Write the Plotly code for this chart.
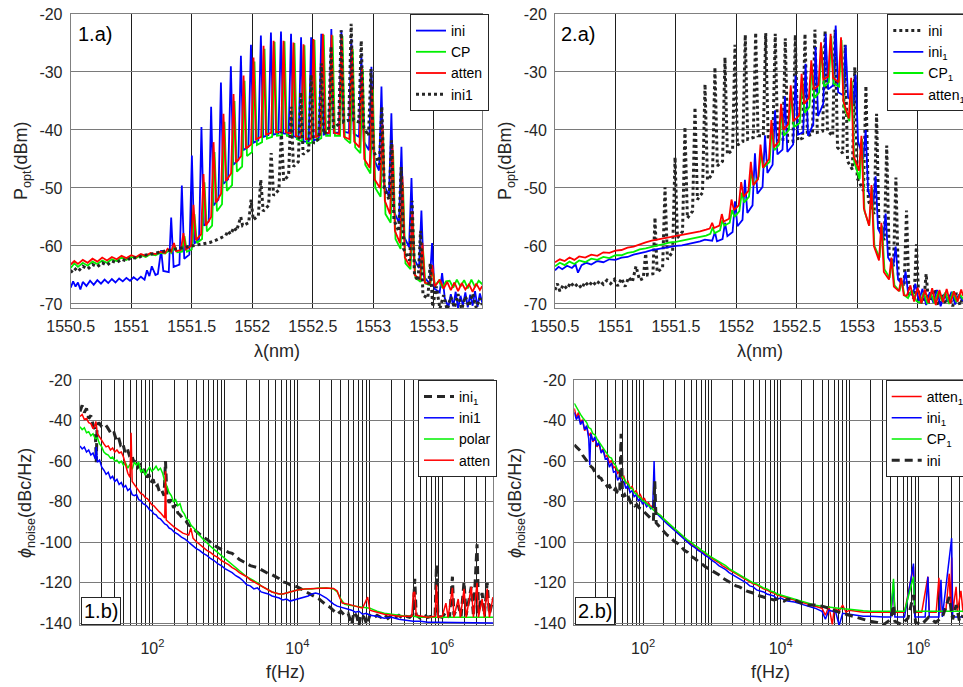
import plotly.graph_objects as go

W, H = 963, 687

# ---------------- data ----------------
# (1.a) optical spectra : (wavelength nm, power dBm); each comb tooth = peak, valley start, valley end
TL_INI = [(1550.50,-67.2),(1550.52,-66.1),(1550.54,-67.0),(1550.56,-66.3),(1550.58,-67.5),(1550.60,-66.2),
          (1550.63,-66.9),(1550.66,-66.0),(1550.69,-66.7),(1550.72,-65.9),(1550.75,-66.5),(1550.78,-65.8),
          (1550.81,-66.4),(1550.84,-65.7),(1550.87,-66.3),(1550.90,-65.6),(1550.93,-66.1),(1550.96,-65.5),
          (1550.99,-66.0),(1551.02,-65.4),(1551.05,-65.9),(1551.08,-65.3),(1551.11,-65.8),(1551.13,-64.2),
          (1551.15,-65.2),(1551.17,-63.5),(1551.20,-65.0),(1551.22,-64.8),
          (1551.247,-60.7),(1551.265,-64.3),(1551.31,-64.5),
          (1551.33,-55.1),(1551.35,-63.6),(1551.398,-63.2),
          (1551.418,-49.6),(1551.438,-62.2),(1551.48,-61.5),
          (1551.501,-44.4),(1551.521,-59.6),(1551.56,-58.8),
          (1551.58,-39.5),(1551.60,-56.5),(1551.64,-55.8),
          (1551.66,-36.0),(1551.68,-53.0),(1551.72,-52.0),
          (1551.741,-31.8),(1551.761,-49.3),(1551.80,-48.5),
          (1551.823,-29.0),(1551.843,-46.0),(1551.885,-45.2),
          (1551.906,-27.2),(1551.926,-43.5),(1551.968,-42.9),
          (1551.989,-25.3),(1552.009,-42.2),(1552.05,-41.8),
          (1552.071,-23.7),(1552.091,-41.2),(1552.133,-40.9),
          (1552.154,-23.2),(1552.174,-40.8),(1552.216,-40.6),
          (1552.237,-23.0),(1552.257,-40.6),(1552.30,-40.7),
          (1552.32,-23.4),(1552.34,-41.0),(1552.383,-41.5),
          (1552.403,-24.0),(1552.423,-42.0),(1552.466,-42.0),
          (1552.486,-24.0),(1552.506,-41.8),(1552.55,-41.5),
          (1552.57,-23.4),(1552.59,-40.8),(1552.633,-40.6),
          (1552.653,-22.6),(1552.673,-40.5),(1552.716,-40.4),
          (1552.736,-22.8),(1552.756,-40.3),(1552.798,-40.5),
          (1552.818,-24.3),(1552.838,-40.6),(1552.881,-41.2),
          (1552.901,-26.8),(1552.921,-42.0),(1552.964,-43.5),
          (1552.984,-29.1),(1553.004,-45.0),(1553.047,-47.0),
          (1553.067,-32.5),(1553.087,-49.3),(1553.129,-51.5),
          (1553.149,-37.1),(1553.169,-54.0),(1553.212,-56.0),
          (1553.232,-42.9),(1553.252,-58.3),(1553.295,-60.2),
          (1553.315,-48.3),(1553.335,-62.2),(1553.377,-63.8),
          (1553.397,-53.9),(1553.417,-65.3),(1553.465,-66.5),
          (1553.485,-59.5),(1553.505,-67.4),(1553.548,-68.0),
          (1553.568,-64.7),(1553.59,-69.0),
          (1553.62,-70.6),(1553.64,-68.3),(1553.66,-70.4),(1553.68,-67.9),(1553.70,-70.8),
          (1553.72,-68.6),(1553.74,-70.2),(1553.76,-68.0),(1553.78,-70.6),(1553.80,-68.4),(1553.82,-70.3),
          (1553.84,-67.8),(1553.86,-70.5),(1553.88,-68.2),(1553.90,-69.8)]

TL_CP = [(1550.50,-63.8),(1550.53,-63.0),(1550.56,-63.6),(1550.60,-62.9),(1550.64,-63.4),(1550.68,-62.7),
         (1550.72,-63.1),(1550.76,-62.5),(1550.80,-62.9),(1550.84,-62.3),(1550.88,-62.6),(1550.92,-62.0),
         (1550.96,-62.4),(1551.00,-61.9),(1551.04,-62.1),(1551.08,-61.6),(1551.12,-61.9),(1551.16,-61.4),
         (1551.20,-61.6),(1551.24,-61.2),(1551.28,-61.3),(1551.31,-60.8),(1551.33,-61.2),(1551.36,-60.0),
         (1551.38,-61.1),(1551.42,-61.0),
         (1551.44,-58.3),(1551.46,-61.0),(1551.50,-60.6),
         (1551.522,-54.5),(1551.542,-59.5),(1551.585,-58.8),
         (1551.605,-49.0),(1551.625,-57.5),(1551.668,-56.5),
         (1551.688,-43.8),(1551.708,-54.0),(1551.75,-52.8),
         (1551.77,-38.6),(1551.79,-50.5),(1551.833,-49.5),
         (1551.853,-35.0),(1551.873,-47.2),(1551.916,-46.3),
         (1551.936,-31.5),(1551.956,-44.5),(1551.998,-43.8),
         (1552.018,-28.2),(1552.038,-42.6),(1552.081,-42.1),
         (1552.101,-26.0),(1552.121,-41.5),(1552.164,-41.2),
         (1552.184,-24.8),(1552.204,-41.0),(1552.246,-40.9),
         (1552.266,-24.7),(1552.286,-41.0),(1552.328,-41.2),
         (1552.348,-25.0),(1552.368,-41.6),(1552.411,-42.0),
         (1552.431,-25.4),(1552.451,-42.3),(1552.494,-42.2),
         (1552.514,-24.5),(1552.534,-41.8),(1552.57,-41.4),
         (1552.59,-23.6),(1552.61,-41.0),(1552.643,-41.0),
         (1552.663,-23.7),(1552.683,-41.0),(1552.725,-41.0),
         (1552.745,-23.8),(1552.765,-41.5),(1552.81,-42.3),
         (1552.83,-26.0),(1552.85,-43.0),(1552.893,-44.0),
         (1552.913,-29.5),(1552.933,-46.0),(1552.976,-47.5),
         (1552.996,-33.0),(1553.016,-50.0),(1553.06,-51.5),
         (1553.08,-40.0),(1553.10,-54.5),(1553.143,-56.0),
         (1553.163,-43.5),(1553.183,-58.8),(1553.225,-60.5),
         (1553.245,-49.5),(1553.265,-63.0),(1553.307,-64.0),
         (1553.327,-55.5),(1553.347,-65.5),(1553.39,-66.2),
         (1553.41,-60.5),(1553.43,-66.5),(1553.47,-66.8),
         (1553.49,-64.0),(1553.51,-66.9),
         (1553.54,-66.0),(1553.57,-67.2),(1553.60,-66.1),(1553.63,-66.0),(1553.66,-67.2),(1553.69,-65.8),
         (1553.72,-67.0),(1553.75,-65.9),(1553.78,-67.3),(1553.81,-65.8),(1553.84,-67.1),(1553.87,-66.0),
         (1553.90,-66.6)]

TL_ATTEN = [(1550.50,-63.2),(1550.53,-62.6),(1550.56,-63.1),(1550.60,-62.4),(1550.64,-62.9),(1550.68,-62.2),
            (1550.72,-62.7),(1550.76,-62.0),(1550.80,-62.5),(1550.84,-61.9),(1550.88,-62.3),(1550.92,-61.7),
            (1550.96,-62.1),(1551.00,-61.6),(1551.04,-61.9),(1551.08,-61.4),(1551.12,-61.7),(1551.16,-61.2),
            (1551.20,-61.4),(1551.24,-61.0),(1551.28,-61.2),(1551.30,-60.5),(1551.33,-61.0),
            (1551.353,-59.5),(1551.37,-60.9),(1551.41,-60.7),
            (1551.431,-57.8),(1551.45,-60.6),(1551.494,-60.0),
            (1551.514,-52.9),(1551.534,-59.0),(1551.577,-58.0),
            (1551.597,-47.6),(1551.617,-56.5),(1551.66,-55.0),
            (1551.68,-42.1),(1551.70,-52.5),(1551.742,-51.0),
            (1551.762,-37.2),(1551.782,-48.8),(1551.825,-47.5),
            (1551.845,-33.8),(1551.865,-45.6),(1551.908,-44.5),
            (1551.928,-30.6),(1551.948,-43.2),(1551.99,-42.5),
            (1552.01,-27.5),(1552.03,-41.6),(1552.073,-41.2),
            (1552.093,-25.5),(1552.113,-40.8),(1552.156,-40.5),
            (1552.176,-24.6),(1552.196,-40.4),(1552.238,-40.3),
            (1552.258,-24.6),(1552.278,-40.4),(1552.32,-40.6),
            (1552.34,-24.9),(1552.36,-41.0),(1552.403,-41.3),
            (1552.423,-25.2),(1552.443,-41.6),(1552.486,-41.5),
            (1552.506,-24.3),(1552.526,-41.2),(1552.563,-40.8),
            (1552.583,-23.4),(1552.603,-40.5),(1552.635,-40.5),
            (1552.655,-23.6),(1552.675,-40.5),(1552.718,-40.7),
            (1552.738,-23.7),(1552.758,-41.2),(1552.802,-41.6),
            (1552.822,-25.5),(1552.842,-42.0),(1552.885,-43.0),
            (1552.905,-29.0),(1552.925,-45.0),(1552.97,-46.5),
            (1552.99,-32.5),(1553.01,-48.5),(1553.055,-50.0),
            (1553.075,-39.0),(1553.095,-52.2),(1553.138,-54.5),
            (1553.158,-42.5),(1553.178,-57.4),(1553.22,-59.5),
            (1553.24,-48.0),(1553.26,-62.0),(1553.302,-63.5),
            (1553.322,-54.0),(1553.342,-65.0),(1553.385,-65.8),
            (1553.405,-59.5),(1553.425,-66.3),(1553.467,-66.6),
            (1553.487,-63.3),(1553.507,-67.0),
            (1553.55,-65.8),(1553.58,-67.4),(1553.61,-66.2),(1553.64,-67.6),(1553.67,-66.3),(1553.70,-67.8),
            (1553.73,-66.4),(1553.76,-67.5),(1553.79,-66.6),(1553.82,-67.9),(1553.85,-66.5),(1553.88,-67.6),
            (1553.90,-66.9)]

TL_INI1 = [(1550.50,-64.6),(1550.53,-63.8),(1550.56,-64.4),(1550.60,-63.5),(1550.64,-64.0),(1550.68,-63.2),
           (1550.72,-63.6),(1550.76,-62.9),(1550.80,-63.3),(1550.84,-62.6),(1550.88,-62.9),(1550.92,-62.3),
           (1550.96,-62.6),(1551.00,-62.0),(1551.05,-62.1),(1551.10,-61.6),(1551.15,-61.5),(1551.20,-61.2),
           (1551.25,-61.0),(1551.30,-60.8),(1551.35,-60.6),(1551.40,-60.4),(1551.45,-60.3),(1551.50,-60.1),
           (1551.55,-59.9),(1551.60,-59.7),(1551.65,-59.4),(1551.70,-59.0),(1551.74,-58.6),(1551.78,-58.2),
           (1551.80,-57.4),(1551.82,-58.0),(1551.85,-56.8),(1551.87,-57.4),
           (1551.905,-55.0),(1551.92,-56.5),(1551.97,-56.0),
           (1551.99,-52.0),(1552.008,-55.5),(1552.05,-54.8),
           (1552.07,-48.6),(1552.09,-54.0),(1552.135,-53.0),
           (1552.156,-44.0),(1552.176,-51.3),(1552.22,-50.3),
           (1552.24,-40.3),(1552.26,-48.8),(1552.30,-47.8),
           (1552.32,-36.0),(1552.34,-46.3),(1552.38,-45.5),
           (1552.40,-33.5),(1552.42,-44.2),(1552.466,-43.5),
           (1552.486,-30.5),(1552.506,-42.3),(1552.55,-41.5),
           (1552.57,-28.5),(1552.59,-40.7),(1552.63,-40.0),
           (1552.65,-25.6),(1552.67,-39.6),(1552.714,-39.0),
           (1552.734,-22.8),(1552.754,-38.6),(1552.797,-38.3),
           (1552.817,-21.7),(1552.837,-38.3),(1552.88,-38.6),
           (1552.90,-24.6),(1552.92,-39.5),(1552.96,-41.0),
           (1552.98,-29.5),(1553.00,-43.5),(1553.05,-46.0),
           (1553.07,-36.0),(1553.09,-50.0),(1553.13,-52.0),
           (1553.15,-41.8),(1553.17,-55.5),(1553.21,-57.5),
           (1553.23,-46.4),(1553.25,-60.5),(1553.30,-62.5),
           (1553.32,-52.2),(1553.34,-65.0),(1553.37,-66.0),
           (1553.39,-57.4),(1553.41,-68.5),(1553.45,-69.0),
           (1553.47,-63.0),(1553.49,-70.5),(1553.52,-67.0),(1553.55,-70.8),(1553.58,-68.5),(1553.61,-71.0),
           (1553.64,-68.8),(1553.67,-70.6),(1553.70,-68.3),(1553.73,-70.9),(1553.76,-68.7),(1553.79,-70.4),
           (1553.82,-68.2),(1553.85,-70.7),(1553.88,-69.0),(1553.90,-70.2)]

# (2.a) optical spectra
TR_INI = [(1550.50,-67.6),(1550.52,-66.5),(1550.54,-67.8),(1550.57,-66.7),(1550.60,-67.4),(1550.63,-66.3),
          (1550.66,-67.1),(1550.69,-66.5),(1550.72,-67.3),(1550.75,-66.2),(1550.78,-66.9),(1550.81,-66.1),
          (1550.84,-66.8),(1550.87,-66.0),(1550.90,-66.6),(1550.93,-65.9),(1550.96,-66.5),(1550.99,-65.8),
          (1551.02,-66.9),(1551.05,-65.6),(1551.08,-67.0),(1551.11,-65.4),(1551.14,-66.2),(1551.17,-63.5),
          (1551.20,-65.9),(1551.23,-65.6),
          (1551.25,-61.3),(1551.265,-65.0),(1551.31,-64.8),
          (1551.327,-55.1),(1551.345,-64.5),(1551.39,-63.8),
          (1551.41,-49.9),(1551.43,-62.3),(1551.473,-61.0),
          (1551.493,-44.7),(1551.513,-58.6),(1551.555,-57.5),
          (1551.575,-39.5),(1551.595,-55.2),(1551.638,-54.0),
          (1551.658,-36.1),(1551.678,-52.0),(1551.72,-50.8),
          (1551.741,-32.1),(1551.761,-48.6),(1551.803,-47.6),
          (1551.823,-29.2),(1551.843,-46.2),(1551.886,-45.4),
          (1551.906,-27.5),(1551.926,-44.2),(1551.969,-43.4),
          (1551.989,-25.3),(1552.009,-42.6),(1552.054,-42.0),
          (1552.074,-23.6),(1552.094,-41.6),(1552.14,-41.3),
          (1552.16,-23.2),(1552.18,-41.0),(1552.223,-41.0),
          (1552.243,-23.3),(1552.263,-41.2),(1552.302,-41.3),
          (1552.322,-23.4),(1552.342,-41.7),(1552.385,-41.9),
          (1552.405,-24.2),(1552.425,-42.0),(1552.468,-42.0),
          (1552.488,-23.6),(1552.508,-41.8),(1552.548,-41.4),
          (1552.568,-23.4),(1552.588,-41.0),(1552.63,-40.7),
          (1552.65,-22.7),(1552.67,-40.4),(1552.714,-40.2),
          (1552.734,-22.9),(1552.754,-40.2),(1552.797,-41.0),
          (1552.817,-22.7),(1552.837,-43.0),(1552.88,-44.0),
          (1552.90,-25.3),(1552.92,-45.4),(1552.96,-46.8),
          (1552.98,-29.2),(1553.00,-48.3),(1553.052,-50.5),
          (1553.072,-32.4),(1553.092,-52.2),(1553.14,-54.5),
          (1553.16,-37.2),(1553.18,-56.8),(1553.224,-59.0),
          (1553.244,-42.7),(1553.264,-61.4),(1553.30,-63.5),
          (1553.32,-48.2),(1553.34,-65.4),(1553.388,-67.0),
          (1553.408,-53.9),(1553.428,-68.3),(1553.47,-69.0),
          (1553.49,-59.7),(1553.51,-69.6),(1553.55,-69.8),
          (1553.57,-64.8),(1553.59,-69.8),
          (1553.61,-69.4),(1553.64,-67.5),(1553.67,-70.3),(1553.70,-68.2),(1553.73,-70.0),(1553.76,-68.5),
          (1553.79,-70.4),(1553.82,-68.1),(1553.85,-70.2),(1553.875,-68.8)]

TR_INI_1 = [(1550.50,-64.2),(1550.53,-63.6),(1550.56,-64.0),(1550.60,-63.4),(1550.64,-63.8),(1550.67,-63.2),
            (1550.69,-64.6),(1550.72,-63.3),(1550.76,-62.9),(1550.80,-63.2),(1550.85,-62.6),(1550.90,-62.8),
            (1550.95,-62.3),(1551.00,-62.4),(1551.05,-62.0),(1551.10,-61.9),(1551.15,-61.5),(1551.20,-61.3),
            (1551.25,-61.0),(1551.30,-60.7),(1551.35,-60.5),(1551.40,-60.3),(1551.45,-60.1),(1551.50,-60.0),
            (1551.55,-59.9),(1551.60,-59.7),(1551.65,-59.5),(1551.70,-59.2),(1551.74,-58.9),(1551.80,-59.1),
            (1551.823,-57.6),(1551.84,-59.2),(1551.886,-58.8),
            (1551.906,-56.0),(1551.926,-58.3),(1551.969,-57.6),
            (1551.989,-52.3),(1552.009,-56.6),(1552.051,-55.5),
            (1552.071,-48.6),(1552.091,-54.3),(1552.134,-53.0),
            (1552.154,-44.0),(1552.174,-51.0),(1552.217,-49.8),
            (1552.237,-40.9),(1552.257,-47.4),(1552.30,-46.0),
            (1552.32,-36.6),(1552.34,-44.2),(1552.382,-43.4),
            (1552.402,-34.2),(1552.422,-43.8),(1552.47,-42.5),
            (1552.49,-30.6),(1552.51,-40.8),(1552.553,-40.4),
            (1552.573,-28.6),(1552.593,-41.0),(1552.636,-39.0),
            (1552.656,-25.7),(1552.676,-37.6),(1552.719,-35.5),
            (1552.739,-23.4),(1552.759,-33.0),(1552.802,-32.3),
            (1552.822,-22.0),(1552.842,-33.5),(1552.884,-34.0),
            (1552.904,-25.4),(1552.924,-34.3),(1552.967,-35.5),
            (1552.987,-30.5),(1553.007,-42.0),(1553.05,-45.0),
            (1553.07,-40.0),(1553.09,-50.5),(1553.132,-53.0),
            (1553.152,-48.0),(1553.172,-57.0),(1553.215,-58.8),
            (1553.235,-54.4),(1553.255,-62.0),(1553.298,-63.5),
            (1553.318,-60.1),(1553.338,-65.8),(1553.38,-66.8),
            (1553.40,-64.4),(1553.42,-68.0),(1553.46,-68.5),
            (1553.48,-66.5),(1553.51,-69.5),(1553.54,-67.4),(1553.57,-70.2),(1553.60,-68.0),(1553.63,-69.8),
            (1553.66,-67.6),(1553.69,-70.4),(1553.72,-68.3),(1553.75,-69.6),(1553.78,-67.9),(1553.81,-70.1),
            (1553.84,-68.4),(1553.875,-69.5)]

TR_CP_1 = [(1550.50,-63.5),(1550.54,-62.9),(1550.58,-63.3),(1550.62,-62.7),(1550.66,-63.1),(1550.70,-62.5),
           (1550.75,-62.8),(1550.80,-62.2),(1550.85,-62.4),(1550.90,-61.9),(1550.95,-62.1),(1551.00,-61.6),
           (1551.05,-61.6),(1551.10,-61.2),(1551.15,-61.0),(1551.20,-60.6),(1551.25,-60.4),(1551.30,-60.1),
           (1551.35,-59.9),(1551.40,-59.7),(1551.45,-59.4),(1551.50,-59.3),(1551.55,-59.1),(1551.60,-58.9),
           (1551.65,-58.7),(1551.70,-58.4),(1551.75,-58.2),(1551.785,-57.9),
           (1551.805,-56.8),(1551.82,-57.8),(1551.865,-57.3),
           (1551.885,-55.5),(1551.90,-56.5),(1551.945,-56.0),
           (1551.965,-53.8),(1551.985,-55.0),(1552.025,-54.0),
           (1552.045,-50.8),(1552.065,-52.5),(1552.105,-51.5),
           (1552.125,-47.0),(1552.145,-49.5),(1552.185,-48.0),
           (1552.205,-43.8),(1552.225,-46.5),(1552.275,-45.5),
           (1552.295,-39.2),(1552.315,-43.5),(1552.355,-42.5),
           (1552.375,-36.8),(1552.395,-41.0),(1552.435,-40.0),
           (1552.455,-33.2),(1552.475,-39.5),(1552.525,-38.8),
           (1552.545,-31.0),(1552.565,-37.0),(1552.605,-36.0),
           (1552.625,-28.8),(1552.645,-34.5),(1552.685,-33.5),
           (1552.705,-25.6),(1552.725,-32.5),(1552.765,-31.8),
           (1552.785,-23.8),(1552.805,-32.0),(1552.85,-32.5),
           (1552.87,-24.5),(1552.89,-36.0),(1552.935,-38.5),
           (1552.955,-31.5),(1552.975,-45.5),(1553.02,-48.5),
           (1553.04,-41.5),(1553.06,-54.0),(1553.10,-56.5),
           (1553.122,-50.0),(1553.142,-60.0),(1553.185,-62.0),
           (1553.205,-56.5),(1553.225,-64.0),(1553.268,-65.5),
           (1553.288,-62.5),(1553.308,-66.8),(1553.35,-67.8),
           (1553.37,-66.0),(1553.39,-68.5),
           (1553.42,-69.0),(1553.45,-67.6),(1553.49,-69.5),(1553.52,-69.8),(1553.55,-68.0),(1553.58,-70.0),
           (1553.61,-68.2),(1553.64,-69.9),(1553.67,-67.8),(1553.70,-69.5),(1553.73,-68.0),(1553.76,-70.0),
           (1553.79,-67.9),(1553.82,-69.7),(1553.85,-68.3),(1553.875,-69.2)]

TR_ATTEN_1 = [(1550.50,-62.8),(1550.54,-62.3),(1550.58,-62.6),(1550.62,-62.0),(1550.66,-62.4),(1550.70,-61.8),
              (1550.75,-62.0),(1550.80,-61.5),(1550.85,-61.7),(1550.90,-61.1),(1550.95,-61.2),(1551.00,-60.8),
              (1551.05,-60.7),(1551.10,-60.3),(1551.15,-60.1),(1551.20,-59.7),(1551.25,-59.4),(1551.30,-59.1),
              (1551.35,-58.9),(1551.40,-58.7),(1551.45,-58.5),(1551.50,-58.3),(1551.55,-58.2),(1551.60,-58.0),
              (1551.65,-57.8),(1551.70,-57.5),(1551.75,-57.2),(1551.78,-57.0),
              (1551.80,-56.0),(1551.815,-56.9),(1551.86,-56.5),
              (1551.88,-54.5),(1551.895,-55.8),(1551.94,-55.3),
              (1551.96,-52.0),(1551.98,-53.8),(1552.02,-53.0),
              (1552.04,-49.0),(1552.06,-51.5),(1552.10,-50.5),
              (1552.12,-45.5),(1552.14,-49.5),(1552.18,-48.5),
              (1552.20,-42.5),(1552.22,-46.5),(1552.27,-45.0),
              (1552.29,-38.3),(1552.31,-43.0),(1552.35,-42.0),
              (1552.37,-35.5),(1552.39,-40.0),(1552.43,-39.0),
              (1552.45,-32.3),(1552.47,-38.5),(1552.52,-37.5),
              (1552.54,-30.3),(1552.56,-35.5),(1552.60,-34.5),
              (1552.62,-28.0),(1552.64,-33.0),(1552.68,-32.3),
              (1552.70,-24.9),(1552.72,-31.3),(1552.76,-30.8),
              (1552.78,-23.4),(1552.80,-31.0),(1552.846,-31.8),
              (1552.866,-24.0),(1552.886,-35.0),(1552.93,-38.0),
              (1552.95,-31.0),(1552.97,-44.5),(1553.015,-47.0),
              (1553.035,-41.0),(1553.055,-53.5),(1553.098,-56.5),
              (1553.118,-49.5),(1553.138,-60.0),(1553.18,-62.5),
              (1553.20,-56.0),(1553.22,-64.5),(1553.263,-65.8),
              (1553.283,-62.0),(1553.303,-67.0),(1553.345,-67.8),
              (1553.365,-65.5),(1553.385,-68.5),
              (1553.41,-68.6),(1553.44,-66.8),(1553.47,-69.6),(1553.50,-67.2),(1553.53,-69.9),(1553.56,-67.5),
              (1553.59,-69.8),(1553.62,-67.3),(1553.65,-70.2),(1553.68,-67.6),(1553.71,-69.7),(1553.74,-67.4),
              (1553.77,-69.9),(1553.80,-67.8),(1553.83,-69.6),(1553.86,-67.5),(1553.875,-68.6)]

# (1.b) phase noise : (log10 f/Hz, dBc/Hz)
BL_INI_1 = [(1.00,-35.5),(1.03,-32.5),(1.06,-36.0),(1.09,-34.0),(1.12,-39.0),(1.15,-37.5),(1.18,-42.0),
            (1.21,-44.5),(1.225,-60.5),(1.235,-43.5),(1.26,-41.0),(1.29,-42.5),(1.32,-41.5),(1.35,-42.0),
            (1.38,-43.5),(1.41,-45.0),(1.44,-47.0),(1.47,-46.0),(1.50,-49.5),(1.53,-48.0),(1.56,-52.0),
            (1.59,-51.0),(1.62,-55.5),(1.65,-53.5),(1.68,-57.0),(1.71,-56.0),(1.74,-60.5),(1.77,-59.0),
            (1.80,-63.0),(1.83,-62.0),(1.86,-65.5),(1.89,-64.0),(1.92,-68.0),(1.95,-66.5),(1.98,-70.5),
            (2.01,-69.0),(2.04,-73.0),(2.07,-72.0),(2.10,-75.5),(2.13,-74.5),(2.16,-77.0),(2.18,-60.0),
            (2.20,-77.5),(2.23,-80.5),(2.26,-79.0),(2.29,-83.0),(2.32,-81.5),(2.35,-85.5),(2.38,-86.5),
            (2.42,-88.5),(2.46,-89.5),(2.50,-91.5),(2.55,-92.5),(2.60,-94.5),(2.65,-96.0),(2.70,-97.5),
            (2.75,-98.5),(2.80,-100.0),(2.85,-101.5),(2.90,-102.5),(2.95,-103.5),(3.00,-104.0),(3.05,-105.0),
            (3.10,-105.5),(3.15,-107.0),(3.20,-108.5),(3.25,-109.5),(3.30,-110.5),(3.35,-111.5),(3.40,-112.0),
            (3.45,-112.5),(3.50,-113.5),(3.55,-114.5),(3.60,-115.5),(3.65,-116.0),(3.70,-117.0),(3.75,-118.0),
            (3.80,-119.5),(3.85,-120.0),(3.90,-121.0),(3.95,-121.5),(4.00,-122.0),(4.05,-123.0),(4.10,-124.0),
            (4.15,-125.0),(4.20,-126.0),(4.25,-127.0),(4.30,-128.0),(4.35,-129.5),(4.40,-131.0),(4.45,-132.0),
            (4.50,-134.0),(4.55,-135.5),(4.60,-134.0),(4.65,-136.0),(4.70,-135.0),(4.75,-140.5),(4.78,-134.5),
            (4.82,-136.5),(4.85,-141.0),(4.88,-135.5),(4.92,-137.0),(4.96,-140.5),(5.00,-136.0),(5.05,-137.5),
            (5.10,-136.0),(5.15,-137.0),(5.20,-135.5),(5.25,-137.5),(5.30,-136.0),(5.35,-137.0),(5.40,-136.0),
            (5.45,-137.5),(5.50,-136.5),(5.55,-137.0),(5.60,-135.5),(5.62,-118.0),(5.64,-136.0),(5.70,-137.5),
            (5.75,-136.0),(5.80,-137.0),(5.85,-136.5),(5.90,-137.0),(5.92,-111.0),(5.94,-136.5),(6.00,-137.0),
            (6.05,-134.5),(6.10,-137.0),(6.14,-117.0),(6.16,-136.0),(6.22,-131.0),(6.26,-136.5),(6.30,-119.5),
            (6.33,-136.0),(6.40,-122.0),(6.43,-136.5),(6.48,-101.0),(6.50,-135.0),(6.55,-125.0),(6.58,-136.0),
            (6.62,-120.0),(6.65,-135.5),(6.70,-128.0)]

BL_INI1 = [(1.00,-52.5),(1.03,-54.0),(1.06,-53.0),(1.09,-55.5),(1.12,-54.5),(1.15,-57.0),(1.18,-56.0),
           (1.21,-59.0),(1.225,-53.0),(1.24,-60.5),(1.27,-59.5),(1.30,-63.0),(1.33,-64.5),(1.36,-66.5),
           (1.39,-65.5),(1.42,-68.5),(1.45,-67.5),(1.48,-70.0),(1.51,-69.0),(1.54,-71.5),(1.57,-70.5),
           (1.60,-73.0),(1.63,-72.0),(1.66,-74.5),(1.69,-73.5),(1.72,-76.5),(1.75,-77.0),(1.78,-76.5),
           (1.81,-79.0),(1.84,-79.5),(1.87,-81.0),(1.90,-81.5),(1.93,-82.5),(1.96,-84.0),(1.99,-84.5),
           (2.02,-86.0),(2.05,-86.5),(2.08,-88.0),(2.11,-88.5),(2.14,-90.0),(2.17,-91.0),(2.20,-91.5),
           (2.23,-93.0),(2.26,-93.5),(2.30,-95.0),(2.35,-96.0),(2.40,-97.5),(2.45,-98.5),(2.50,-100.0),
           (2.55,-101.5),(2.60,-103.0),(2.65,-104.0),(2.70,-105.5),(2.75,-106.5),(2.80,-108.0),(2.85,-109.0),
           (2.90,-110.5),(2.95,-111.5),(3.00,-113.0),(3.05,-114.0),(3.10,-115.0),(3.15,-116.5),(3.20,-117.5),
           (3.25,-119.0),(3.30,-121.0),(3.35,-121.5),(3.40,-123.0),(3.45,-122.5),(3.50,-124.5),(3.55,-125.0),
           (3.60,-125.5),(3.65,-126.5),(3.70,-127.0),(3.75,-127.5),(3.80,-128.5),(3.85,-128.0),(3.90,-129.0),
           (3.95,-128.5),(4.00,-128.0),(4.05,-127.5),(4.10,-127.0),(4.15,-126.5),(4.20,-125.5),(4.25,-125.0),
           (4.30,-125.5),(4.35,-126.5),(4.40,-127.5),(4.45,-129.0),(4.50,-130.5),(4.55,-131.5),(4.60,-132.0),
           (4.65,-132.5),(4.70,-133.0),(4.75,-133.5),(4.80,-134.5),(4.85,-134.0),(4.90,-135.5),(4.95,-135.0),
           (5.00,-136.0),(5.10,-136.5),(5.20,-137.5),(5.30,-137.0),(5.40,-138.0),(5.50,-138.5),(5.60,-139.0),
           (5.70,-139.0),(5.80,-139.5),(5.90,-139.5),(6.00,-139.5),(6.20,-139.8),(6.40,-139.8),(6.70,-139.8)]

BL_POLAR = [(1.00,-43.0),(1.03,-44.5),(1.06,-43.5),(1.09,-46.0),(1.12,-45.5),(1.15,-47.5),(1.18,-46.5),
            (1.21,-49.0),(1.24,-48.5),(1.27,-51.5),(1.30,-53.0),(1.33,-55.5),(1.36,-56.5),(1.39,-57.0),
            (1.42,-58.5),(1.45,-58.0),(1.48,-60.0),(1.51,-59.5),(1.54,-61.0),(1.57,-60.0),(1.60,-62.0),
            (1.63,-61.0),(1.66,-63.5),(1.69,-61.5),(1.72,-64.0),(1.75,-60.5),(1.78,-62.0),(1.81,-60.5),
            (1.84,-65.5),(1.87,-64.0),(1.90,-67.0),(1.93,-64.5),(1.96,-63.0),(1.99,-65.0),(2.02,-64.0),
            (2.05,-62.5),(2.08,-64.5),(2.11,-63.5),(2.14,-66.0),(2.17,-70.0),(2.20,-72.5),(2.23,-75.5),
            (2.26,-77.0),(2.29,-80.0),(2.32,-79.0),(2.35,-82.0),(2.38,-81.0),(2.41,-84.5),(2.44,-86.0),
            (2.47,-88.5),(2.50,-89.0),(2.53,-91.5),(2.57,-93.0),(2.61,-95.0),(2.65,-96.5),(2.70,-98.5),
            (2.75,-100.5),(2.80,-102.0),(2.85,-103.5),(2.90,-105.0),(2.95,-106.5),(3.00,-108.0),(3.05,-109.5),
            (3.10,-111.0),(3.15,-112.5),(3.20,-114.0),(3.25,-115.5),(3.30,-117.0),(3.35,-118.0),(3.40,-119.0),
            (3.45,-120.0),(3.50,-121.5),(3.55,-122.5),(3.60,-123.5),(3.65,-124.5),(3.70,-125.0),(3.75,-125.5),
            (3.80,-125.5),(3.85,-125.0),(3.90,-124.5),(3.95,-124.0),(4.00,-123.5),(4.10,-123.0),(4.20,-123.0),
            (4.30,-122.5),(4.40,-122.5),(4.50,-123.0),(4.55,-124.5),(4.60,-128.0),(4.65,-130.5),(4.70,-131.0),
            (4.80,-131.5),(4.90,-132.0),(5.00,-132.5),(5.10,-134.0),(5.20,-135.0),(5.30,-135.5),(5.40,-136.0),
            (5.50,-136.5),(5.60,-136.5),(5.70,-137.0),(5.80,-136.8),(5.90,-137.0),(6.00,-137.0),(6.20,-137.0),
            (6.40,-137.0),(6.70,-137.0)]

BL_ATTEN = [(1.00,-38.0),(1.03,-37.0),(1.06,-39.5),(1.09,-39.0),(1.12,-41.0),(1.15,-41.5),(1.18,-44.0),
            (1.20,-43.0),(1.22,-40.5),(1.24,-46.5),(1.27,-48.0),(1.30,-50.0),(1.33,-51.5),(1.36,-53.0),
            (1.39,-52.5),(1.42,-54.5),(1.45,-53.5),(1.48,-55.5),(1.51,-54.5),(1.54,-56.0),(1.57,-55.5),
            (1.60,-58.0),(1.63,-62.0),(1.66,-66.0),(1.69,-68.0),(1.705,-46.0),(1.72,-70.0),(1.75,-71.5),
            (1.78,-73.0),(1.81,-74.5),(1.84,-76.0),(1.87,-76.5),(1.90,-78.0),(1.93,-78.5),(1.96,-80.0),
            (1.99,-81.5),(2.02,-82.0),(2.05,-83.5),(2.08,-84.5),(2.11,-85.5),(2.14,-86.5),(2.17,-88.0),
            (2.18,-65.0),(2.19,-89.0),(2.22,-90.0),(2.26,-91.5),(2.30,-92.5),(2.34,-93.5),(2.38,-94.5),
            (2.42,-95.5),(2.46,-96.0),(2.50,-96.5),(2.53,-93.0),(2.56,-98.0),(2.60,-99.5),(2.65,-101.0),
            (2.70,-102.5),(2.75,-104.0),(2.80,-105.0),(2.85,-106.5),(2.90,-107.5),(2.95,-109.0),(3.00,-110.0),
            (3.05,-111.0),(3.10,-112.5),(3.15,-113.5),(3.20,-115.0),(3.25,-116.0),(3.30,-117.0),(3.35,-118.5),
            (3.40,-119.5),(3.45,-120.5),(3.50,-121.5),(3.55,-122.5),(3.60,-123.5),(3.65,-124.5),(3.70,-125.0),
            (3.75,-125.5),(3.80,-125.5),(3.85,-125.0),(3.90,-124.5),(3.95,-124.0),(4.00,-123.5),(4.10,-123.0),
            (4.20,-122.8),(4.30,-122.5),(4.40,-122.5),(4.50,-122.8),(4.55,-124.0),(4.58,-127.0),(4.62,-130.0),
            (4.70,-130.5),(4.80,-131.5),(4.90,-132.5),(4.97,-127.0),(5.00,-133.5),(5.10,-134.5),(5.20,-135.5),
            (5.30,-136.0),(5.40,-136.5),(5.50,-136.5),(5.58,-136.5),(5.60,-125.0),(5.62,-124.5),(5.64,-136.0),
            (5.70,-136.5),(5.80,-137.0),(5.90,-136.5),(5.92,-121.0),(5.94,-137.0),(6.00,-136.5),(6.05,-130.0),
            (6.08,-137.0),(6.14,-122.5),(6.16,-137.0),(6.22,-128.0),(6.25,-137.0),(6.30,-123.0),(6.33,-137.0),
            (6.40,-122.0),(6.43,-137.0),(6.48,-120.0),(6.50,-137.0),(6.55,-128.0),(6.58,-137.0),(6.62,-123.0),
            (6.65,-137.0),(6.70,-127.0)]

# (2.b) phase noise
BR_ATTEN_1 = [(1.00,-34.0),(1.03,-38.5),(1.06,-36.0),(1.09,-41.0),(1.12,-39.5),(1.15,-45.0),(1.18,-43.0),
              (1.21,-47.5),(1.24,-46.0),(1.27,-50.5),(1.30,-48.5),(1.33,-53.0),(1.36,-51.5),(1.39,-55.5),
              (1.42,-54.0),(1.45,-58.0),(1.48,-57.0),(1.51,-61.0),(1.54,-59.5),(1.57,-63.5),(1.60,-62.5),
              (1.63,-66.0),(1.66,-65.0),(1.69,-68.5),(1.72,-67.5),(1.75,-71.0),(1.78,-70.0),(1.81,-73.5),
              (1.84,-72.5),(1.87,-75.5),(1.90,-74.5),(1.93,-77.5),(1.96,-76.5),(1.99,-79.0),(2.02,-78.5),
              (2.05,-81.0),(2.08,-80.5),(2.11,-82.5),(2.14,-82.0),(2.17,-84.0),(2.20,-85.5),(2.24,-86.5),
              (2.28,-88.0),(2.32,-89.5),(2.36,-90.5),(2.40,-92.0),(2.45,-93.5),(2.50,-95.0),(2.55,-96.5),
              (2.60,-98.0),(2.65,-99.5),(2.70,-101.0),(2.75,-102.0),(2.80,-103.5),(2.85,-104.5),(2.90,-105.5),
              (2.95,-107.0),(3.00,-108.0),(3.05,-109.0),(3.10,-110.0),(3.15,-111.5),(3.20,-112.5),(3.25,-113.5),
              (3.30,-114.5),(3.35,-115.5),(3.40,-116.5),(3.45,-117.5),(3.50,-118.5),(3.55,-119.5),(3.60,-120.5),
              (3.65,-121.0),(3.70,-122.0),(3.75,-123.0),(3.80,-123.5),(3.85,-124.5),(3.90,-125.0),(3.95,-126.0),
              (4.00,-126.5),(4.10,-127.5),(4.20,-128.5),(4.30,-129.5),(4.40,-130.5),(4.50,-131.5),(4.60,-132.5),
              (4.65,-136.0),(4.70,-131.5),(4.75,-140.5),(4.78,-132.5),(4.85,-134.0),(4.90,-131.0),(4.95,-134.5),
              (5.00,-133.5),(5.10,-134.0),(5.20,-134.5),(5.30,-134.5),(5.40,-134.5),(5.50,-134.5),(5.60,-134.5),
              (5.64,-123.0),(5.66,-134.5),(5.80,-134.5),(5.93,-112.0),(5.95,-134.5),(6.05,-134.5),(6.14,-117.0),
              (6.16,-134.5),(6.26,-134.5),(6.30,-117.5),(6.32,-134.5),(6.40,-134.0),(6.45,-115.5),(6.47,-134.5),
              (6.485,-107.5),(6.50,-134.5),(6.55,-122.0),(6.57,-134.0),(6.62,-124.0),(6.65,-134.5)]

BR_INI_1 = [(1.00,-36.0),(1.03,-39.5),(1.06,-37.5),(1.09,-42.0),(1.12,-40.0),(1.15,-44.5),(1.18,-42.5),
            (1.21,-49.0),(1.225,-62.0),(1.24,-46.5),(1.27,-50.0),(1.30,-48.0),(1.33,-52.5),(1.36,-50.5),
            (1.39,-56.0),(1.42,-54.5),(1.45,-59.0),(1.48,-58.5),(1.51,-63.0),(1.54,-61.0),(1.57,-65.5),
            (1.60,-65.0),(1.63,-69.5),(1.66,-67.5),(1.69,-71.0),(1.72,-70.0),(1.75,-73.5),(1.78,-72.0),
            (1.81,-75.5),(1.84,-74.5),(1.87,-77.5),(1.90,-76.5),(1.93,-79.5),(1.96,-78.5),(1.99,-81.0),
            (2.02,-80.0),(2.05,-82.5),(2.08,-81.5),(2.11,-83.5),(2.14,-83.0),(2.16,-60.0),(2.18,-85.0),
            (2.22,-86.5),(2.26,-88.0),(2.30,-89.0),(2.35,-91.0),(2.40,-92.5),(2.45,-94.0),(2.50,-95.5),
            (2.55,-97.0),(2.60,-98.5),(2.65,-100.0),(2.70,-101.5),(2.75,-102.5),(2.80,-104.0),(2.85,-105.0),
            (2.90,-106.5),(2.95,-107.5),(3.00,-109.0),(3.05,-110.0),(3.10,-111.5),(3.15,-112.5),(3.20,-113.5),
            (3.25,-115.0),(3.30,-116.0),(3.35,-117.0),(3.40,-118.0),(3.45,-119.0),(3.50,-120.0),(3.55,-121.5),
            (3.60,-122.0),(3.65,-123.5),(3.70,-124.0),(3.75,-124.5),(3.80,-125.5),(3.85,-126.0),(3.90,-126.5),
            (3.95,-128.0),(4.00,-127.5),(4.10,-129.0),(4.20,-129.5),(4.30,-130.5),(4.40,-131.5),(4.50,-132.5),
            (4.60,-134.0),(4.65,-138.0),(4.70,-133.5),(4.80,-134.5),(4.85,-141.0),(4.90,-135.0),(5.00,-135.5),
            (5.10,-136.0),(5.20,-136.5),(5.30,-136.5),(5.40,-136.8),(5.50,-136.8),(5.60,-136.8),(5.64,-120.0),
            (5.66,-136.8),(5.80,-136.8),(5.93,-110.5),(5.95,-136.8),(6.10,-136.8),(6.14,-117.0),(6.16,-136.8),
            (6.30,-136.8),(6.33,-118.5),(6.35,-136.8),(6.485,-98.0),(6.50,-136.8),(6.65,-136.8)]

BR_CP_1 = [(1.00,-31.5),(1.03,-33.5),(1.06,-35.0),(1.09,-37.0),(1.12,-38.5),(1.15,-40.0),(1.18,-41.0),
           (1.21,-43.5),(1.24,-44.0),(1.27,-46.5),(1.30,-47.0),(1.33,-49.0),(1.36,-50.5),(1.39,-51.5),
           (1.42,-53.0),(1.45,-55.0),(1.48,-56.0),(1.51,-58.0),(1.54,-58.5),(1.57,-61.0),(1.60,-62.0),
           (1.63,-64.5),(1.66,-65.0),(1.69,-67.5),(1.72,-68.5),(1.75,-70.5),(1.78,-71.0),(1.81,-73.0),
           (1.84,-73.5),(1.87,-75.5),(1.90,-76.0),(1.93,-77.5),(1.96,-78.0),(1.99,-79.5),(2.02,-80.0),
           (2.05,-81.0),(2.08,-82.0),(2.11,-83.0),(2.14,-84.0),(2.18,-85.0),(2.22,-86.0),(2.26,-87.0),
           (2.30,-88.5),(2.35,-90.0),(2.40,-91.5),(2.45,-93.0),(2.50,-94.5),(2.55,-96.0),(2.60,-97.5),
           (2.65,-99.0),(2.70,-100.0),(2.75,-101.5),(2.80,-102.5),(2.85,-104.0),(2.90,-105.0),(2.95,-106.5),
           (3.00,-107.5),(3.05,-108.5),(3.10,-109.5),(3.15,-110.5),(3.20,-111.5),(3.25,-113.0),(3.30,-114.0),
           (3.35,-115.0),(3.40,-116.0),(3.45,-117.0),(3.50,-118.0),(3.55,-119.0),(3.60,-120.0),(3.65,-120.5),
           (3.70,-121.5),(3.75,-122.5),(3.80,-123.0),(3.85,-124.0),(3.90,-124.5),(3.95,-125.5),(4.00,-126.0),
           (4.10,-127.0),(4.20,-128.0),(4.30,-129.0),(4.40,-130.0),(4.50,-131.0),(4.60,-131.5),(4.70,-132.0),
           (4.80,-132.5),(4.90,-132.8),(5.00,-133.0),(5.10,-133.5),(5.20,-133.8),(5.30,-134.0),(5.40,-134.0),
           (5.50,-134.0),(5.60,-134.0),(5.64,-118.0),(5.66,-134.0),(5.80,-134.0),(5.93,-117.0),(5.95,-134.0),
           (6.10,-134.0),(6.65,-134.0)]

BR_INI = [(1.00,-52.0),(1.03,-53.0),(1.06,-54.5),(1.09,-55.0),(1.12,-57.0),(1.15,-58.5),(1.18,-60.0),
          (1.21,-61.0),(1.24,-62.5),(1.27,-63.5),(1.30,-65.5),(1.33,-66.0),(1.36,-68.0),(1.39,-68.5),
          (1.42,-70.5),(1.45,-71.0),(1.48,-72.5),(1.51,-72.0),(1.54,-74.5),(1.57,-75.0),(1.60,-73.5),
          (1.63,-75.5),(1.66,-76.0),(1.68,-46.5),(1.70,-77.5),(1.73,-76.5),(1.76,-79.0),(1.79,-78.0),
          (1.82,-80.5),(1.85,-80.0),(1.88,-82.0),(1.91,-81.5),(1.94,-83.0),(1.97,-83.5),(2.00,-84.5),
          (2.03,-85.5),(2.06,-86.0),(2.09,-87.5),(2.12,-88.5),(2.15,-89.5),(2.17,-70.0),(2.19,-90.5),
          (2.23,-92.0),(2.27,-93.5),(2.31,-95.0),(2.35,-96.5),(2.40,-97.5),(2.45,-99.5),(2.50,-100.5),
          (2.55,-102.0),(2.60,-104.0),(2.65,-105.0),(2.70,-107.0),(2.75,-108.0),(2.80,-109.5),(2.85,-110.5),
          (2.90,-112.0),(2.95,-113.0),(3.00,-114.0),(3.05,-115.0),(3.10,-116.0),(3.15,-117.5),(3.20,-118.5),
          (3.25,-119.5),(3.30,-120.5),(3.35,-121.5),(3.40,-122.0),(3.45,-123.0),(3.50,-124.0),(3.55,-124.5),
          (3.60,-125.0),(3.65,-126.0),(3.70,-126.5),(3.75,-127.0),(3.80,-127.5),(3.85,-128.0),(3.90,-128.5),
          (3.95,-128.0),(4.00,-128.5),(4.05,-129.0),(4.10,-128.0),(4.20,-128.5),(4.30,-130.0),(4.40,-131.0),
          (4.50,-131.0),(4.60,-131.5),(4.70,-132.5),(4.80,-134.0),(4.90,-135.0),(5.00,-136.0),(5.10,-137.0),
          (5.20,-138.0),(5.30,-139.0),(5.40,-139.5),(5.50,-140.5),(5.60,-138.0),(5.64,-131.0),(5.66,-139.0),
          (5.75,-140.5),(5.85,-137.5),(5.93,-126.0),(5.96,-139.5),(6.05,-140.5),(6.15,-137.0),(6.25,-139.5),
          (6.35,-137.0),(6.45,-127.0),(6.50,-138.0),(6.55,-131.0),(6.60,-139.0),(6.65,-136.0)]

# axis ticks
WL_TICKS = [1550.5, 1551, 1551.5, 1552, 1552.5, 1553, 1553.5]
WL_TICKTEXT = ["1550.5", "1551", "1551.5", "1552", "1552.5", "1553", "1553.5"]
P_TICKS = [-70, -60, -50, -40, -30, -20]
P_TICKTEXT = ["-70", "-60", "-50", "-40", "-30", "-20"]
PN_TICKS = [-140, -120, -100, -80, -60, -40, -20]
PN_TICKTEXT = ["-140", "-120", "-100", "-80", "-60", "-40", "-20"]
F_LABEL_VALS = [100, 10000, 1000000]
F_LABEL_TEXT = ["10<sup>2</sup>", "10<sup>4</sup>", "10<sup>6</sup>"]
F_DECADES = [1, 2, 3, 4, 5, 6]
F_MULTS = [1, 2, 3, 4, 5, 6, 7, 8, 9]

# ---------------- helpers ----------------
def xs(pairs): return [p[0] for p in pairs]
def ys(pairs): return [p[1] for p in pairs]
def fs(pairs): return [10 ** p[0] for p in pairs]
def px(x): return x / W
def py(y): return 1 - y / H

FONT = "Liberation Sans, Arial, Helvetica, sans-serif"
TXT = "#262626"
BLUE, GREEN, RED, BLK = "#0000ff", "#00f000", "#ff0000", "#262626"

fig = go.Figure()

def add(xv, yv, name, color, width, dash, ax, leg):
    fig.add_trace(go.Scatter(x=xv, y=yv, name=name, mode="lines",
                             line=dict(color=color, width=width, dash=dash),
                             xaxis="x" + ax, yaxis="y" + ax, legend=leg))

# 1.a
add(xs(TL_INI), ys(TL_INI), "ini", BLUE, 1.8, "solid", "", "legend")
add(xs(TL_CP), ys(TL_CP), "CP", GREEN, 1.8, "solid", "", "legend")
add(xs(TL_ATTEN), ys(TL_ATTEN), "atten", RED, 1.8, "solid", "", "legend")
add(xs(TL_INI1), ys(TL_INI1), "ini1", BLK, 3, "dot", "", "legend")
# 2.a
add(xs(TR_INI), ys(TR_INI), "ini", BLK, 3, "dot", "2", "legend2")
add(xs(TR_INI_1), ys(TR_INI_1), "ini<sub>1</sub>", BLUE, 1.8, "solid", "2", "legend2")
add(xs(TR_CP_1), ys(TR_CP_1), "CP<sub>1</sub>", GREEN, 1.8, "solid", "2", "legend2")
add(xs(TR_ATTEN_1), ys(TR_ATTEN_1), "atten<sub>1</sub>", RED, 1.8, "solid", "2", "legend2")
# 1.b
add(fs(BL_INI_1), ys(BL_INI_1), "ini<sub>1</sub>", BLK, 3, "8px,5px", "3", "legend3")
add(fs(BL_INI1), ys(BL_INI1), "ini1", BLUE, 1.5, "solid", "3", "legend3")
add(fs(BL_POLAR), ys(BL_POLAR), "polar", GREEN, 1.5, "solid", "3", "legend3")
add(fs(BL_ATTEN), ys(BL_ATTEN), "atten", RED, 1.5, "solid", "3", "legend3")
# 2.b
add(fs(BR_ATTEN_1), ys(BR_ATTEN_1), "atten<sub>1</sub>", RED, 1.5, "solid", "4", "legend4")
add(fs(BR_INI_1), ys(BR_INI_1), "ini<sub>1</sub>", BLUE, 1.5, "solid", "4", "legend4")
add(fs(BR_CP_1), ys(BR_CP_1), "CP<sub>1</sub>", GREEN, 1.5, "solid", "4", "legend4")
add(fs(BR_INI), ys(BR_INI), "ini", BLK, 3, "8px,5px", "4", "legend4")

minor_f = [m * 10 ** e for e in F_DECADES for m in F_MULTS if m * 10 ** e not in F_LABEL_VALS]

common = dict(showline=True, mirror=True, linecolor="#808080", linewidth=1, zeroline=False,
              ticks="", tickfont=dict(family=FONT, size=16, color=TXT), layer="above traces")
xgrid = dict(showgrid=True, gridcolor="#1e1e1e", gridwidth=1)
ygrid = dict(showgrid=True, gridcolor="#7a7a7a", gridwidth=1)
logx = dict(type="log", tickmode="array", tickvals=F_LABEL_VALS, ticktext=F_LABEL_TEXT,
            ticklabelstandoff=9,
            minor=dict(tickmode="array", tickvals=minor_f, showgrid=True, gridcolor="#1e1e1e",
                       gridwidth=1, ticks=""))

top_dom = [py(308.3), py(14)]
bot_dom = [py(625), py(380)]

lay = dict(
    width=W, height=H, margin=dict(l=0, r=0, t=0, b=0, autoexpand=False),
    paper_bgcolor="white", plot_bgcolor="white", showlegend=True,
    font=dict(family=FONT, color=TXT),
    xaxis=dict(domain=[px(70.7), px(482.3)], range=[1550.5, 1553.9], anchor="y",
               tickvals=WL_TICKS, ticktext=WL_TICKTEXT, ticklabelstandoff=3, **common, **xgrid),
    yaxis=dict(domain=top_dom, range=[-70.75, -20], anchor="x", tickvals=P_TICKS, ticktext=P_TICKTEXT,
               ticklabelstandoff=4, **common, **ygrid),
    xaxis2=dict(domain=[px(555), 1.0], range=[1550.5, 1553.875], anchor="y2",
                tickvals=WL_TICKS, ticktext=WL_TICKTEXT, ticklabelstandoff=3, **common, **xgrid),
    yaxis2=dict(domain=top_dom, range=[-70.75, -20], anchor="x2", tickvals=P_TICKS, ticktext=P_TICKTEXT,
                ticklabelstandoff=4, **common, **ygrid),
    xaxis3=dict(domain=[px(80), px(493)], range=[1.0, 6.7], anchor="y3", **logx, **common, **xgrid),
    yaxis3=dict(domain=bot_dom, range=[-140.8, -20], anchor="x3", tickvals=PN_TICKS, ticktext=PN_TICKTEXT,
                ticklabelstandoff=4, **common, **ygrid),
    xaxis4=dict(domain=[px(574.3), 1.0], range=[1.0, 6.65], anchor="y4", **logx, **common, **xgrid),
    yaxis4=dict(domain=bot_dom, range=[-140.8, -20], anchor="x4", tickvals=PN_TICKS, ticktext=PN_TICKTEXT,
                ticklabelstandoff=4, **common, **ygrid),
)

def legend_at(x0, y0):
    return dict(x=px(x0), y=py(y0), xanchor="left", yanchor="top", bgcolor="white",
                bordercolor="#262626", borderwidth=1, font=dict(family=FONT, size=14, color="black"),
                itemwidth=30, tracegroupgap=0, traceorder="normal")

lay["legend"] = legend_at(410, 14)
lay["legend2"] = legend_at(887.3, 14)
lay["legend3"] = legend_at(418, 380)
lay["legend4"] = legend_at(885.7, 380)

ann = []
def text(x, y, s, size=18, angle=0, **kw):
    ann.append(dict(x=px(x), y=py(y), xref="paper", yref="paper", text=s, showarrow=False,
                    textangle=angle, font=dict(family=FONT, size=size, color=kw.pop("color", TXT)),
                    xanchor=kw.pop("xanchor", "center"), yanchor=kw.pop("yanchor", "middle"), **kw))

text(94.5, 34, "1.a)", 20, color="black")
text(578, 34, "2.a)", 20, color="black")
text(80.5, 625, "1.b)", 20, color="black", xanchor="left", yanchor="bottom",
     bgcolor="white", bordercolor="#262626", borderwidth=1, borderpad=2)
text(574.8, 625, "2.b)", 20, color="black", xanchor="left", yanchor="bottom",
     bgcolor="white", bordercolor="#262626", borderwidth=1, borderpad=2)
text(276.5, 351, "λ(nm)", 18)
text(760, 351, "λ(nm)", 18)
text(285, 672, "f(Hz)", 18)
text(770, 672, "f(Hz)", 18)
text(22, 161, "P<sub>opt</sub>(dBm)", 18, angle=-90)
text(506, 161, "P<sub>opt</sub>(dBm)", 18, angle=-90)
text(26, 503, "<i>ϕ</i><sub>noise</sub>(dBc/Hz)", 18, angle=-90)
text(516, 503, "<i>ϕ</i><sub>noise</sub>(dBc/Hz)", 18, angle=-90)
lay["annotations"] = ann

fig.update_layout(**lay)
fig.write_html("out.html", config={"displayModeBar": False},
               post_script="document.body.style.margin='0px';document.body.style.overflow='hidden';")
